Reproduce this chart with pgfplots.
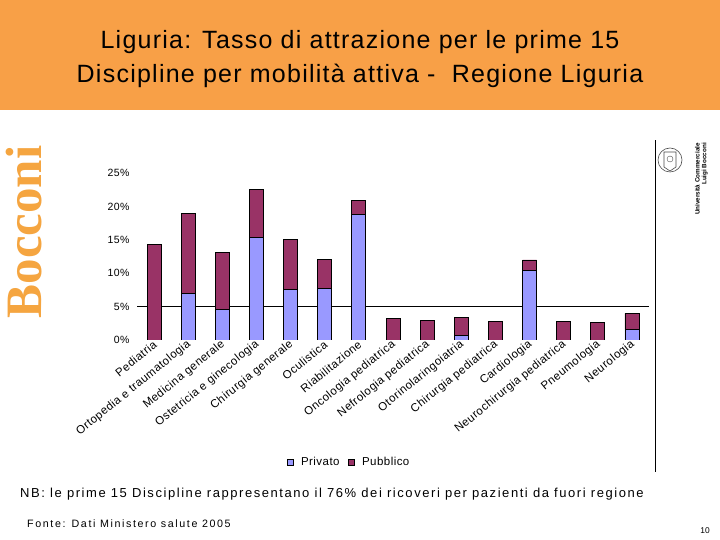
\documentclass[border=0pt]{standalone}
\usepackage{pgfplots}
\pgfplotsset{compat=1.18}
\usepackage{pgfplotstable}
\usepackage{fontspec}
\setmainfont{Liberation Sans}
\newfontfamily\serifb{Liberation Serif}
\newfontfamily\hdrfont[LetterSpace=5]{Liberation Sans}
\newfontfamily\nbfont[LetterSpace=12]{Liberation Sans}
\newfontfamily\srcfont[LetterSpace=15]{Liberation Sans}
\newfontfamily\tickfont[LetterSpace=4]{Liberation Sans}
\definecolor{hdr}{HTML}{F8A047}
\definecolor{boc}{HTML}{F5A540}
\definecolor{priv}{HTML}{9999FF}
\definecolor{pubb}{HTML}{993366}
\pgfplotstableread{
idx priv pub
0 0 14.35
1 7.0 12.0
2 4.6 8.55
3 15.4 7.2
4 7.6 7.5
5 7.75 4.35
6 18.85 2.1
7 0 3.25
8 0 2.95
9 0.7 2.7
10 0 2.8
11 10.4 1.6
12 0 2.8
13 0 2.65
14 1.6 2.4
}\datatab
\begin{document}
\begin{tikzpicture}
\path[use as bounding box] (0pt,0pt) rectangle (720pt,540pt);
\fill[white] (0pt,0pt) rectangle (720pt,540pt);
\fill[hdr] (0pt,430pt) rectangle (720pt,540pt);
\node[anchor=base, font=\hdrfont\fontsize{25}{29}\selectfont, text=black] at (360pt,491pt) {Liguria: Tasso di attrazione per le prime 15};
\node[anchor=base, font=\hdrfont\fontsize{25}{29}\selectfont, text=black] at (360pt,457pt) {Discipline per mobilità attiva -\ \ Regione Liguria};
\node[rotate=90, font=\serifb\bfseries\fontsize{51}{55}\selectfont, text=boc] at (24pt,308pt) {Bocconi};
% right separator and logo
\draw[black, line width=0.8pt] (655pt,68pt) -- (655pt,400pt);
\draw[gray!60!black, line width=0.6pt] (670pt,380pt) circle (12pt);
\draw[gray!60!black, line width=0.6pt] (664pt,373pt) -- (664pt,388pt) -- (676pt,388pt) -- (676pt,373pt) -- (670pt,369pt) -- cycle;
\draw[gray!60!black, line width=0.4pt] (670pt,381pt) circle (3pt);
\node[rotate=90, font=\bfseries\fontsize{6.3}{7}\selectfont, anchor=south east, inner sep=0] at (700pt,397pt) {Università Commerciale};
\node[rotate=90, font=\bfseries\fontsize{6.3}{7}\selectfont, anchor=south east, inner sep=0] at (708pt,397pt) {Luigi Bocconi};
\begin{axis}[
  at={(137pt,200pt)}, anchor=south west,
  scale only axis, width=512pt, height=166.7pt,
  xmin=-0.5, xmax=14.5, ymin=0, ymax=25,
  ybar stacked, bar width=14pt,
  axis line style={draw=none},
  major tick length=0pt,
  ytick={0,5,...,25},
  /pgf/number format/assume math mode=true,
  yticklabel={\pgfmathprintnumber{\tick}\%},
  yticklabel style={font=\tickfont\fontsize{10.5}{12}\selectfont, xshift=-4pt},
  extra y ticks={5}, extra y tick labels={},
  extra y tick style={grid=major, major grid style={black, line width=0.8pt}},
  xtick=data,
  xticklabels={Pediatria,Ortopedia e traumatologia,Medicina generale,Ostetricia e ginecologia,Chirurgia generale,Oculistica,Riabilitazione,Oncologia pediatrica,Nefrologia pediatrica,Otorinolaringoiatria,Chirurgia pediatrica,Cardiologia,Neurochirurgia pediatrica,Pneumologia,Neurologia},
  xticklabel style={rotate=39, anchor=east, font=\tickfont\fontsize{11.5}{13}\selectfont, inner sep=1pt, yshift=-3pt},
  legend style={at={(0.414,-0.732)}, anchor=center, draw=none, fill=none, legend columns=2, font=\tickfont\fontsize{11.5}{14}\selectfont, column sep=6pt},
  legend image code/.code={\draw[#1, draw=black, line width=0.5pt] (0pt,-3pt) rectangle (6pt,3pt);},
]
\addplot[fill=priv, draw=black, line width=0.8pt] table[x=idx, y=priv] {\datatab};
\addplot[fill=pubb, draw=black, line width=0.8pt] table[x=idx, y=pub] {\datatab};
\legend{Privato, Pubblico}
\end{axis}
\node[anchor=base west, inner sep=0, font=\nbfont\fontsize{13}{15}\selectfont] at (20pt,42pt) {NB: le prime 15 Discipline rappresentano il 76\% dei ricoveri per pazienti da fuori regione};
\node[anchor=base west, inner sep=0, font=\srcfont\fontsize{10.7}{13}\selectfont] at (27pt,12pt) {Fonte: Dati Ministero salute 2005};
\node[anchor=base, inner sep=0, font=\fontsize{8.4}{10}\selectfont] at (705pt,6pt) {10};
\end{tikzpicture}
\end{document}
